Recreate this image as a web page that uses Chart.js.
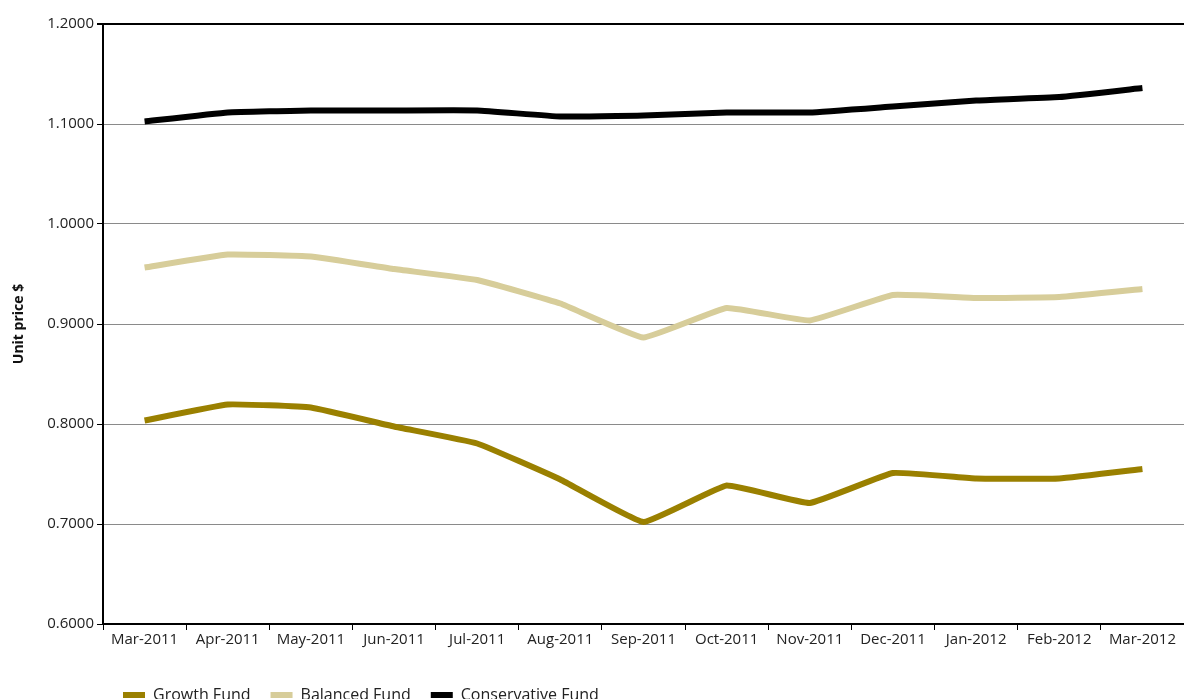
<!DOCTYPE html>
<html>
<head>
<meta charset="utf-8">
<script src="https://cdn.jsdelivr.net/npm/chart.js@4"></script>
<style>
  html, body { margin: 0; padding: 0; background: #fff; overflow: hidden; }
  #wrap { width: 1184px; height: 713px; }
</style>
</head>
<body>
<div id="wrap"><canvas id="chart"></canvas></div>
<script>
// monthly unit prices
const months = [
    "Mar-2011", "Apr-2011", "May-2011", "Jun-2011", "Jul-2011", "Aug-2011", "Sep-2011",
    "Oct-2011", "Nov-2011", "Dec-2011", "Jan-2012", "Feb-2012", "Mar-2012"
];

const growthFund = [0.8035, 0.8195, 0.8165, 0.7975, 0.7805, 0.7445, 0.7020, 0.7385, 0.7210, 0.7510, 0.7455, 0.7455, 0.7550];
const balancedFund = [0.9565, 0.9695, 0.9675, 0.9550, 0.9440, 0.9205, 0.8865, 0.9160, 0.9035, 0.9290, 0.9260, 0.9270, 0.9350];
const conservativeFund = [1.1025, 1.1115, 1.1135, 1.1135, 1.1135, 1.1075, 1.1085, 1.1115, 1.1115, 1.1175, 1.1235, 1.1270, 1.1360];

const yMin = 0.6;
const yMax = 1.2;
const yStep = 0.1;

const font = "'Open Sans', Roboto, sans-serif";

function line(label, data, color) {
    return {
        label,
        data,
        borderColor: color,
        backgroundColor: color,
        borderWidth: 6,
        pointRadius: 0,
        tension: 0.1,
        fill: false
    };
}

new Chart(document.getElementById("chart"), {

    type: "line",

    data: {
        labels: months,
        datasets: [
            line("Growth Fund", growthFund, "#9a8000"),
            line("Balanced Fund", balancedFund, "#d7cd9a"),
            line("Conservative Fund", conservativeFund, "#000000")
        ]
    },

    options: {
        responsive: true,
        maintainAspectRatio: false,
        animation: false,
        layout: {
            padding: { top: 24, right: 0, left: 0, bottom: 0 }
        },
        plugins: {
            tooltip: { enabled: false },
            legend: {
                position: "bottom",
                align: "start",
                fullSize: false,
                labels: {
                    boxWidth: 22,
                    boxHeight: 6,
                    padding: 20,
                    color: "#222",
                    font: { family: font, size: 16 },
                    generateLabels(chart) {
                        return Chart.defaults.plugins.legend.labels.generateLabels(chart)
                            .map(item => ({ ...item, lineWidth: 0 }));
                    }
                }
            }
        },
        scales: {
            x: {
                offset: true,
                afterFit(scale) { scale.height = 43; },
                grid: {
                    offset: true,
                    drawOnChartArea: false,
                    drawTicks: true,
                    tickLength: 6,
                    color: "#000"
                },
                border: { color: "#000", width: 2 },
                ticks: {
                    color: "#222",
                    padding: 1,
                    maxRotation: 0,
                    autoSkip: false,
                    font: { family: font, size: 15 }
                }
            },
            y: {
                min: yMin,
                max: yMax,
                afterFit(scale) { scale.width = 103; },
                grid: {
                    color: ctx => (ctx.tick && Math.abs(ctx.tick.value - yMax) < 1e-6) ? "#000" : "#8a8a8a",
                    lineWidth: ctx => (ctx.tick && Math.abs(ctx.tick.value - yMax) < 1e-6) ? 2 : 1,
                    tickLength: 6,
                    tickColor: "#000"
                },
                border: { color: "#000", width: 2 },
                ticks: {
                    stepSize: yStep,
                    color: "#222",
                    padding: 3,
                    font: { family: font, size: 15 },
                    callback: v => Number(v).toFixed(4)
                },
                title: {
                    display: true,
                    text: "Unit price $",
                    color: "#111",
                    padding: { top: 11, bottom: 0 },
                    font: { family: font, size: 14, weight: "bold" }
                }
            }
        }
    }

});
</script>
</body>
</html>
